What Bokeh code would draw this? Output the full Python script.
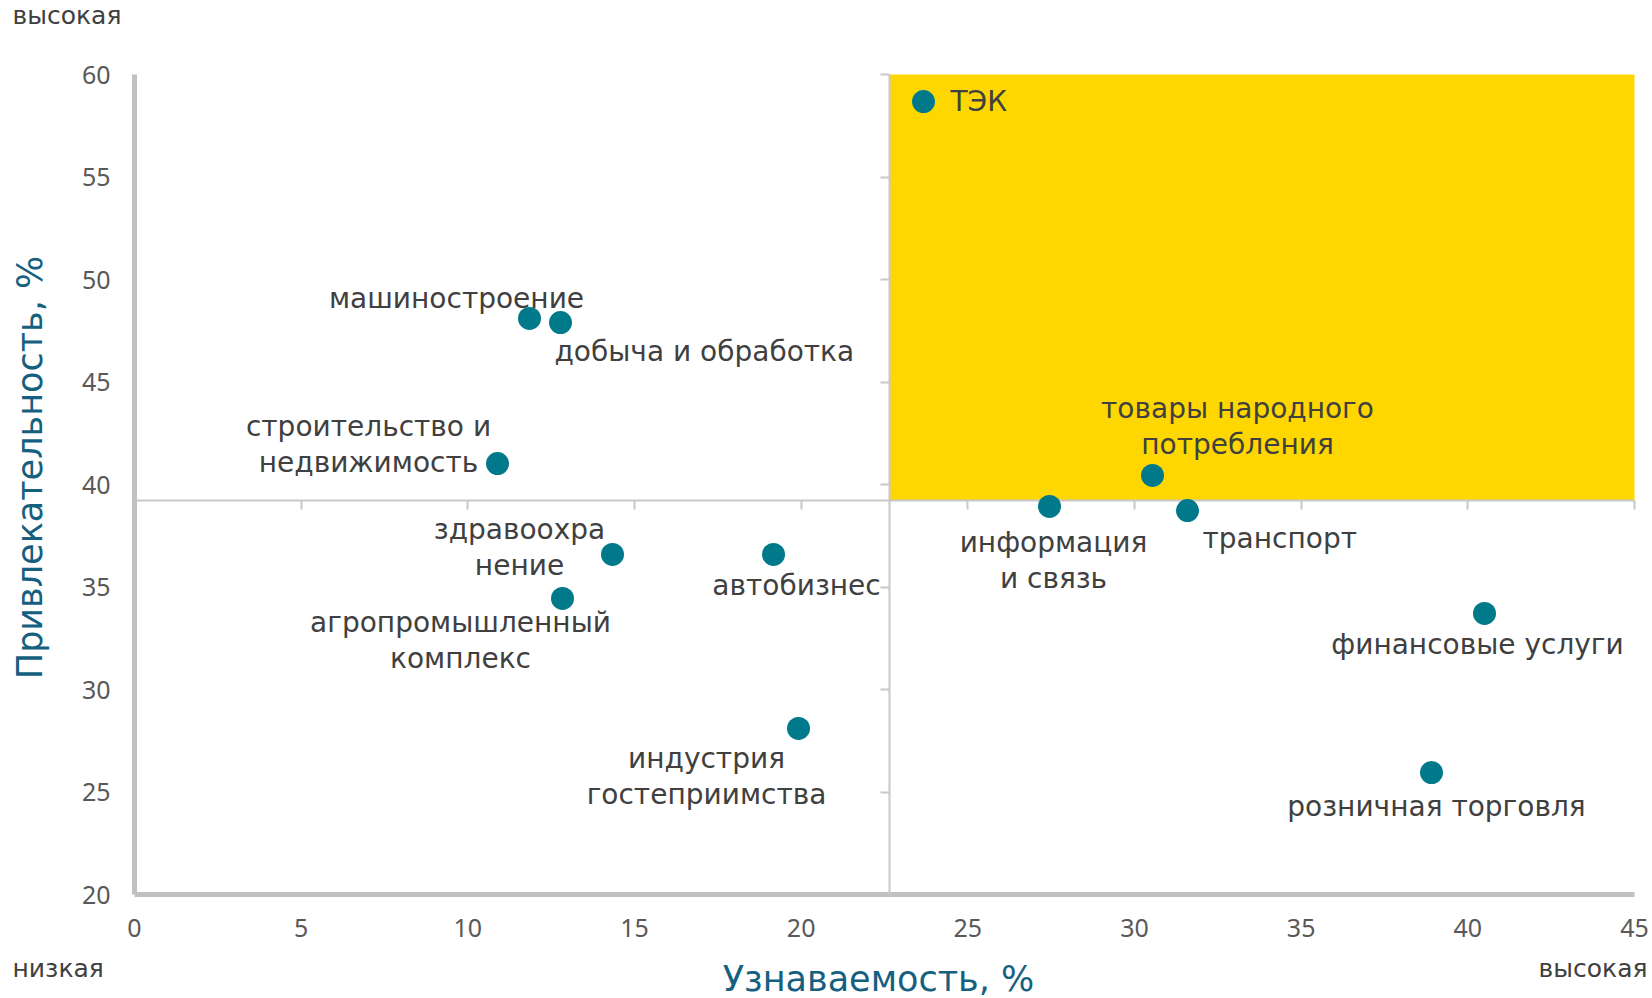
import math
from bokeh.plotting import figure
from bokeh.models import Range1d, ColumnDataSource, Label, FixedTicker, LinearAxis
from bokeh.core.properties import value
from bokeh.embed import file_html
from bokeh.resources import INLINE

# ---- data ----
sectors = ["ТЭК", "машиностроение", "добыча и обработка", "строительство и\nнедвижимость",
           "здравоохра\nнение", "автобизнес", "агропромышленный\nкомплекс",
           "индустрия\nгостеприимства", "информация\nи связь", "товары народного\nпотребления",
           "транспорт", "финансовые услуги", "розничная торговля"]
recognition = [23.67, 11.85, 12.78, 10.89, 14.34, 19.17, 12.84, 19.92, 27.45, 30.54, 31.59, 40.50, 38.91]
attractiveness = [58.68, 48.10, 47.90, 41.02, 36.59, 36.59, 34.44, 28.10, 38.93, 40.44, 38.73, 33.71, 25.95]

x_split = 22.65
y_split = 39.2
x_ticks = [0, 5, 10, 15, 20, 25, 30, 35, 40, 45]
y_ticks = [20, 25, 30, 35, 40, 45, 50, 55, 60]

# label placement (screen px) and alignment
lab_dx = [27, -73, -6, -129, -93, 23, -102, -92, 4, 85, 15, -7, 5]
lab_dy = [0, -20, 29, -19, -7, 31, 42, 48, 54, -49, 28, 31, 34]
lab_align = ["left", "center", "left", "center", "center", "center", "center",
             "center", "center", "center", "left", "center", "center"]

FONT = "DejaVu Sans"
TEAL = "#007a8a"
TXT = "#404040"
TITLE = "#15607f"
GRID = "#c8c8c8"
AXIS = "#c0c0c0"

p = figure(width=1652, height=998, output_backend="svg", toolbar_location=None,
           x_range=Range1d(-4.02, 45.54), y_range=Range1d(14.927, 63.61),
           x_axis_type=None, y_axis_type=None, min_border=0)
p.outline_line_color = None
p.xgrid.visible = False
p.ygrid.visible = False

# upper-right quadrant
p.quad(left=[x_split], right=[45], bottom=[y_split], top=[60], fill_color="#fed700",
       line_color=None, level="underlay")

def make_axis(side, loc, ticks, bounds, color, width, tick_out, labels):
    ax = LinearAxis(fixed_location=loc, bounds=bounds, ticker=FixedTicker(ticks=ticks))
    ax.axis_line_color = color
    ax.axis_line_width = width
    ax.minor_tick_line_color = None
    ax.major_tick_in = 0
    ax.major_tick_out = tick_out
    ax.major_tick_line_color = color if tick_out else None
    ax.major_tick_line_width = 2
    if labels:
        ax.major_label_text_font = "Noto Sans"
        ax.major_label_text_font_size = "25px"
        ax.major_label_text_color = "#595959"
    else:
        ax.major_label_overrides = {t: "" for t in ticks}
        ax.major_label_text_font_size = "0px"
    p.add_layout(ax, side)
    return ax

# crossing lines (quadrant dividers) with ticks
make_axis("left", x_split, [t for t in y_ticks if t > 20], (20, 60), GRID, 2, 9, False)
make_axis("below", y_split, [t for t in x_ticks if t > 0], (0, 45), GRID, 2, 9, False)
# main axes
ya = make_axis("left", 0, y_ticks, (20, 60), AXIS, 5, 0, True)
ya.major_label_standoff = 24
xa = make_axis("below", 20, x_ticks, (0, 45), AXIS, 5, 0, True)
xa.major_label_standoff = 24

src = ColumnDataSource(dict(x=recognition, y=attractiveness, t=sectors,
                            dx=lab_dx, dy=lab_dy, al=lab_align))
p.scatter("x", "y", source=src, size=23, fill_color=TEAL, line_color=None, level="annotation")
p.text("x", "y", text="t", source=src, x_offset="dx", y_offset="dy", text_align="al",
       text_baseline="middle", text_font=value(FONT), text_font_size="28px",
       text_color=TXT, text_line_height=1.11, level="annotation")

def lab(x, y, text, align="left", size="25px", color=TXT, angle=0.0):
    p.add_layout(Label(x=x, y=y, text=text, text_align=align, text_baseline="middle",
                       text_font=FONT, text_font_size=size, text_color=color, angle=angle))

lab(-3.66, 62.88, "высокая")
lab(-3.66, 16.39, "низкая")
lab(45.39, 16.39, "высокая", align="right")
lab(22.32, 15.90, "Узнаваемость, %", align="center", size="35px", color=TITLE)
lab(-3.15, 40.83, "Привлекательность, %", align="center", size="35px", color=TITLE, angle=math.pi / 2)

open("out.html", "w").write(file_html(p, INLINE))
